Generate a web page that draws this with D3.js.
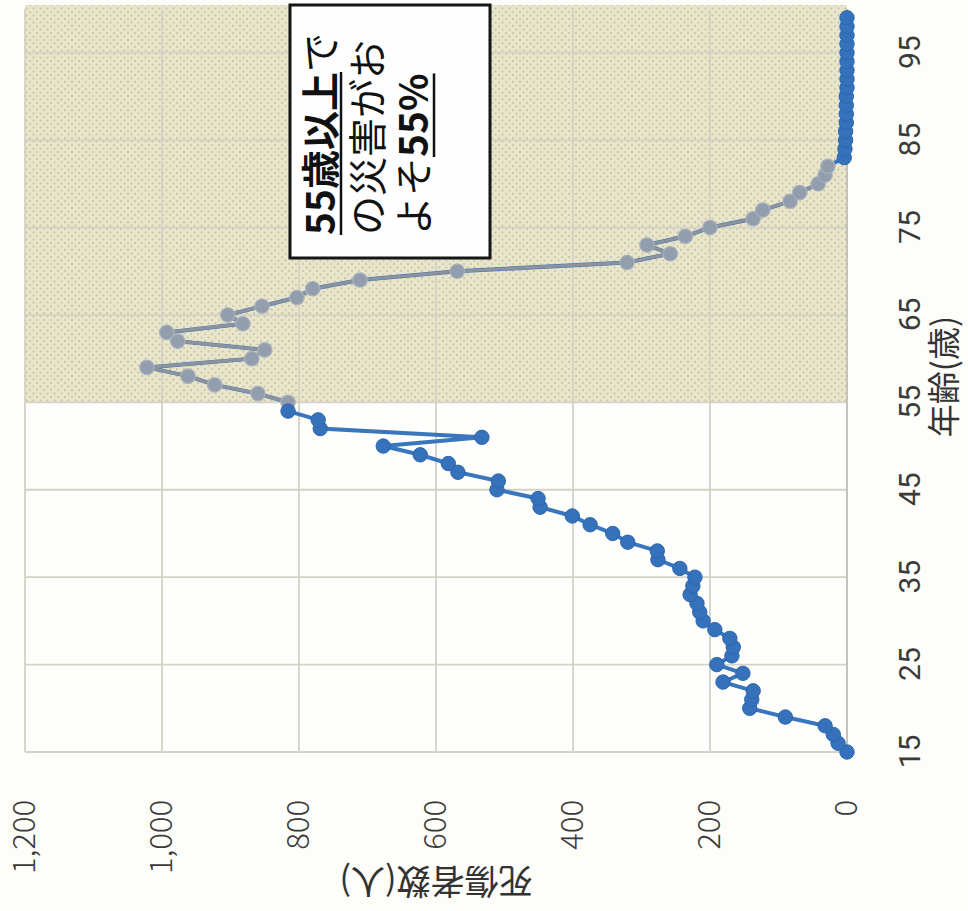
<!DOCTYPE html>
<html>
<head>
<meta charset="utf-8">
<script src="https://cdn.jsdelivr.net/npm/d3@7"></script>
<style>
  html, body { margin: 0; padding: 0; background: #fdfdf9; }
  svg { display: block; }
</style>
</head>
<body>
<svg id="chart"></svg>
<script>
// 年齢 15〜99歳
const ages = d3.range(15, 100);
// 死傷者数（人） 読み取り値
const deaths = [
  0, 13, 20, 32, 90, 142, 139, 137, 181, 152,      // 15-24
  190, 168, 166, 171, 193, 210, 215, 219, 229, 225, // 25-34
  222, 244, 276, 277, 320, 342, 375, 401, 448, 451, // 35-44
  511, 509, 568, 582, 623, 677, 533, 769, 772, 816, // 45-54
  816, 860, 923, 962, 1022, 869, 850, 977, 993, 882, // 55-64
  904, 854, 803, 780, 711, 569, 321, 258, 292, 236, // 65-74
  200, 137, 123, 83, 69, 42, 32, 28, 4, 3,          // 75-84
  2, 2, 1, 1, 1, 1, 0, 0, 0, 0,                     // 85-94
  0, 0, 0, 0, 0                                     // 95-99
];
const ageTicks = [15, 25, 35, 45, 55, 65, 75, 85, 95];
const deathTicks = [0, 200, 400, 600, 800, 1000, 1200];
const shadeFrom = 55;   // 網掛け（55歳以上）
const grayTo = 82;      // 網掛け内で灰色に見える範囲

const data = ages.map((a, i) => ({ age: a, value: deaths[i] }));

const svg = d3.select("#chart").attr("width", 968).attr("height", 911);

// 図全体が左に90度回転している
const W = 743, H = 822;
const x = d3.scaleLinear().domain([15, 100]).range([0, W]);
const y = d3.scaleLinear().domain([0, 1200]).range([H, 0]);

const defs = svg.append("defs");
const pat = defs.append("pattern")
  .attr("id", "dots")
  .attr("patternUnits", "userSpaceOnUse")
  .attr("width", 7).attr("height", 7);
pat.append("rect").attr("width", 7).attr("height", 7).attr("fill", "#e8e5ca");
pat.append("circle").attr("cx", 1.5).attr("cy", 1.5).attr("r", 1).attr("fill", "#c6c2a4");
pat.append("circle").attr("cx", 5).attr("cy", 5).attr("r", 1).attr("fill", "#c6c2a4");

const g = svg.append("g").attr("transform", "translate(25,752) rotate(-90)");

// plot background
g.append("rect").attr("x", 0).attr("y", 0).attr("width", W).attr("height", H).attr("fill", "#fefefc");

// shaded area 55+
g.append("rect")
  .attr("x", x(shadeFrom)).attr("y", 0)
  .attr("width", x(100) - x(shadeFrom) + 4).attr("height", H)
  .attr("fill", "url(#dots)");

// gridlines
g.append("g").selectAll("line")
  .data(ageTicks)
  .join("line")
  .attr("x1", d => x(d)).attr("x2", d => x(d))
  .attr("y1", 0).attr("y2", H)
  .attr("stroke", "#d3d2c6").attr("stroke-width", 1.8);

g.append("g").selectAll("line")
  .data(deathTicks.filter(d => d > 0))
  .join("line")
  .attr("x1", 0).attr("x2", W)
  .attr("y1", d => y(d)).attr("y2", d => y(d))
  .attr("stroke", "#d3d2c6").attr("stroke-width", 1.8);

// axis line at 0
g.append("line")
  .attr("x1", 0).attr("x2", W).attr("y1", H).attr("y2", H)
  .attr("stroke", "#bdbdb5").attr("stroke-width", 1.8);

// axes
const xAxis = g.append("g")
  .attr("transform", `translate(0,${H})`)
  .call(d3.axisBottom(x).tickValues(ageTicks).tickSize(0).tickPadding(52));
xAxis.select(".domain").remove();
xAxis.selectAll("text")
  .attr("font-family", "'Liberation Sans Narrow', 'Roboto', 'Noto Sans CJK JP', sans-serif")
  .attr("font-size", 30).attr("fill", "#3a3a3a");

const yAxis = g.append("g")
  .call(d3.axisLeft(y).tickValues(deathTicks).tickSize(0).tickPadding(48).tickFormat(d3.format(",")));
yAxis.select(".domain").remove();
yAxis.selectAll("text")
  .attr("font-family", "'Noto Sans CJK JP', 'Noto Sans', sans-serif")
  .attr("font-weight", 300)
  .attr("font-size", 31).attr("fill", "#3a3a3a");

// axis titles
g.append("text")
  .attr("x", W / 2 + 4).attr("y", H + 95)
  .attr("text-anchor", "middle").attr("dominant-baseline", "central")
  .attr("font-family", "'Noto Sans CJK JP', sans-serif")
  .attr("font-size", 33).attr("fill", "#333")
  .text("年齢(歳)");

g.append("text")
  .attr("transform", `translate(-131,${H / 2}) rotate(-90)`)
  .attr("text-anchor", "middle").attr("dominant-baseline", "central")
  .attr("font-family", "'Noto Sans CJK JP', sans-serif")
  .attr("font-size", 34).attr("fill", "#333")
  .text("死傷者数(人)");

// line
const line = d3.line().x(d => x(d.age)).y(d => y(d.value));
const isGray = d => d.age >= shadeFrom && d.age <= grayTo;

g.append("path")
  .datum(data)
  .attr("d", line)
  .attr("fill", "none").attr("stroke", "#3a76bd").attr("stroke-width", 4);

g.append("path")
  .datum(data.filter(d => d.age >= shadeFrom - 1 && d.age <= grayTo))
  .attr("d", line)
  .attr("fill", "none").attr("stroke", "#8c939c").attr("stroke-width", 3.2);

g.append("g").selectAll("circle")
  .data(data.filter(isGray))
  .join("circle")
  .attr("cx", d => x(d.age)).attr("cy", d => y(d.value))
  .attr("r", 7.2)
  .attr("fill", "#929eae").attr("stroke", "#a9b1bb").attr("stroke-width", 1.2);

g.append("g").selectAll("circle")
  .data(data.filter(d => !isGray(d)))
  .join("circle")
  .attr("cx", d => x(d.age)).attr("cy", d => y(d.value))
  .attr("r", 7.2)
  .attr("fill", "#3572bb").attr("stroke", "#2d66ab").attr("stroke-width", 1);

// annotation box
const box = g.append("g");
box.append("rect")
  .attr("x", 494).attr("y", 265).attr("width", 253).attr("height", 200)
  .attr("fill", "#fefefe").attr("stroke", "#151515").attr("stroke-width", 3);

const fs = 39, tx = 517;
const t1 = box.append("text").attr("x", tx).attr("y", 310)
  .attr("font-family", "'Noto Sans CJK JP', sans-serif").attr("font-size", fs).attr("fill", "#111");
t1.append("tspan").attr("font-weight", "bold").text("55歳以上");
t1.append("tspan").text("で");

box.append("text").attr("x", tx).attr("y", 357)
  .attr("font-family", "'Noto Sans CJK JP', sans-serif").attr("font-size", fs).attr("fill", "#111")
  .text("の災害がお");

const t3 = box.append("text").attr("x", tx).attr("y", 403)
  .attr("font-family", "'Noto Sans CJK JP', sans-serif").attr("font-size", fs).attr("fill", "#111");
t3.append("tspan").text("よそ");
t3.append("tspan").attr("font-weight", "bold").text("55%");

// underlines
const u1 = t1.node().getSubStringLength(0, 5);
box.append("line")
  .attr("x1", tx).attr("x2", tx + u1).attr("y1", 316).attr("y2", 316)
  .attr("stroke", "#111").attr("stroke-width", 2.5);
const a3 = t3.node().getSubStringLength(0, 2);
const b3 = t3.node().getSubStringLength(0, 5);
box.append("line")
  .attr("x1", tx + a3).attr("x2", tx + b3).attr("y1", 409).attr("y2", 409)
  .attr("stroke", "#111").attr("stroke-width", 2.5);
</script>
</body>
</html>
